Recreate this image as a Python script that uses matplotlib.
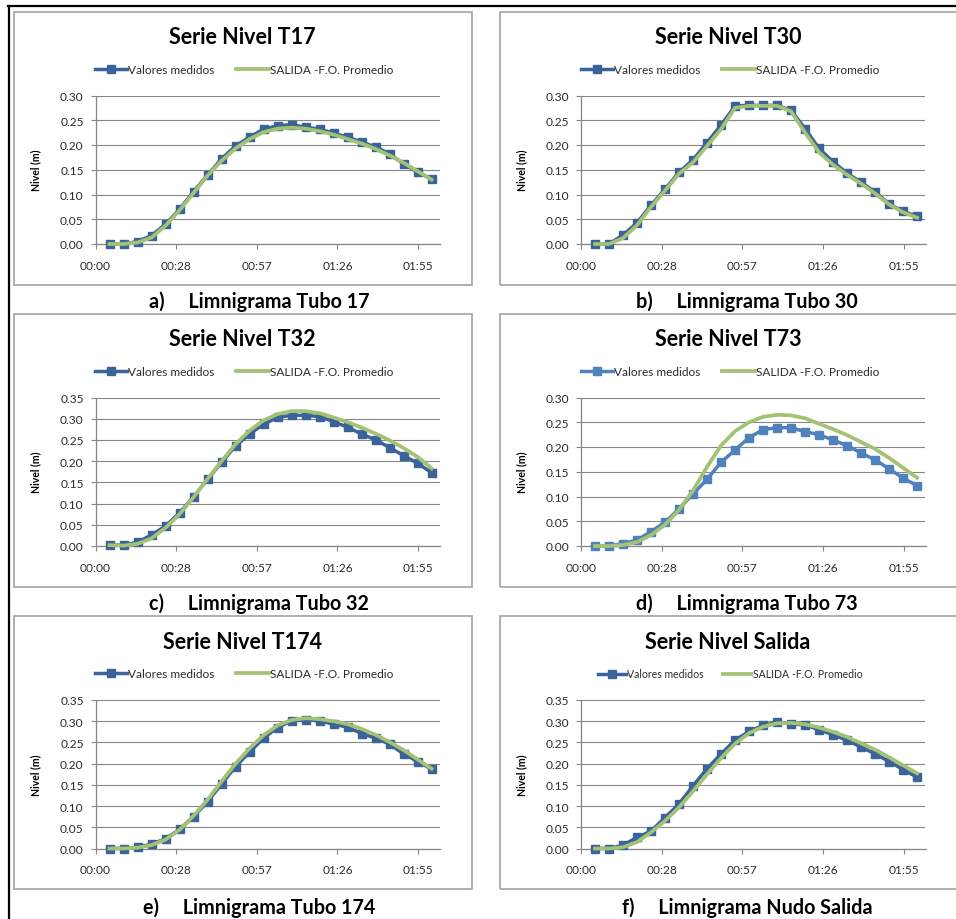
import matplotlib
matplotlib.use("Agg")
import matplotlib.pyplot as plt
from matplotlib.patches import Rectangle
from matplotlib.lines import Line2D

plt.rcParams["font.family"] = ["Lato", "DejaVu Sans"]

# Data (minutes from start, level in m)
minutos = [5, 10, 15, 20, 25, 30, 35, 40, 45, 50, 55, 60,
           65, 70, 75, 80, 85, 90, 95, 100, 105, 110, 115, 120]

medido_t17 = [0.000, 0.000, 0.005, 0.017, 0.040, 0.070, 0.106, 0.139, 0.172, 0.198, 0.216, 0.232,
              0.239, 0.241, 0.236, 0.232, 0.224, 0.216, 0.206, 0.196, 0.182, 0.162, 0.145, 0.131]
salida_t17 = [0.000, 0.000, 0.003, 0.013, 0.037, 0.068, 0.103, 0.138, 0.168, 0.193, 0.212, 0.226,
              0.233, 0.235, 0.233, 0.228, 0.221, 0.212, 0.203, 0.192, 0.179, 0.164, 0.147, 0.130]

medido_t30 = [0.000, 0.000, 0.018, 0.043, 0.078, 0.111, 0.145, 0.170, 0.205, 0.240, 0.279, 0.280,
              0.280, 0.280, 0.270, 0.233, 0.193, 0.166, 0.143, 0.125, 0.105, 0.081, 0.066, 0.056]
salida_t30 = [0.000, 0.000, 0.012, 0.038, 0.075, 0.108, 0.142, 0.165, 0.198, 0.232, 0.275, 0.279,
              0.279, 0.279, 0.268, 0.225, 0.185, 0.160, 0.140, 0.122, 0.102, 0.080, 0.064, 0.053]

medido_t32 = [0.002, 0.002, 0.009, 0.026, 0.047, 0.078, 0.116, 0.157, 0.197, 0.236, 0.264, 0.287,
              0.303, 0.308, 0.308, 0.305, 0.293, 0.280, 0.264, 0.250, 0.232, 0.213, 0.195, 0.173]
salida_t32 = [0.002, 0.001, 0.005, 0.018, 0.043, 0.075, 0.115, 0.158, 0.200, 0.240, 0.272, 0.296,
              0.311, 0.318, 0.318, 0.313, 0.303, 0.292, 0.279, 0.265, 0.249, 0.231, 0.210, 0.183]

medido_t73 = [0.000, 0.000, 0.005, 0.012, 0.029, 0.048, 0.075, 0.105, 0.135, 0.169, 0.194, 0.219,
              0.235, 0.239, 0.239, 0.231, 0.225, 0.214, 0.203, 0.188, 0.174, 0.156, 0.137, 0.122]
salida_t73 = [0.000, 0.000, 0.002, 0.008, 0.022, 0.043, 0.073, 0.112, 0.160, 0.203, 0.232, 0.250,
              0.261, 0.265, 0.264, 0.258, 0.247, 0.236, 0.224, 0.210, 0.196, 0.178, 0.158, 0.138]

medido_t174 = [0.000, 0.000, 0.003, 0.010, 0.023, 0.045, 0.075, 0.110, 0.152, 0.193, 0.227, 0.260,
               0.285, 0.301, 0.303, 0.301, 0.293, 0.286, 0.271, 0.260, 0.246, 0.223, 0.205, 0.187]
salida_t174 = [0.000, 0.000, 0.002, 0.008, 0.021, 0.044, 0.077, 0.115, 0.158, 0.200, 0.236, 0.267,
               0.290, 0.303, 0.307, 0.305, 0.300, 0.293, 0.282, 0.268, 0.251, 0.232, 0.210, 0.188]

medido_salida = [0.000, 0.000, 0.008, 0.026, 0.041, 0.073, 0.105, 0.148, 0.188, 0.223, 0.255, 0.276,
                 0.290, 0.297, 0.294, 0.291, 0.280, 0.268, 0.255, 0.239, 0.223, 0.205, 0.186, 0.168]
salida_salida = [0.000, 0.000, 0.003, 0.015, 0.038, 0.065, 0.097, 0.135, 0.175, 0.213, 0.247, 0.272,
                 0.287, 0.295, 0.296, 0.293, 0.285, 0.275, 0.263, 0.248, 0.233, 0.215, 0.196, 0.177]

x_ticks = [0, 28.8, 57.6, 86.4, 115.2]
x_labels = ["00:00", "00:28", "00:57", "01:26", "01:55"]

titulos = ["Serie Nivel T17", "Serie Nivel T30", "Serie Nivel T32",
           "Serie Nivel T73", "Serie Nivel T174", "Serie Nivel Salida"]
leyendas = ["a)     Limnigrama Tubo 17", "b)     Limnigrama Tubo 30",
            "c)     Limnigrama Tubo 32", "d)     Limnigrama Tubo 73",
            "e)     Limnigrama Tubo 174", "f)     Limnigrama Nudo Salida"]

medidos = [medido_t17, medido_t30, medido_t32, medido_t73, medido_t174, medido_salida]
salidas = [salida_t17, salida_t30, salida_t32, salida_t73, salida_t174, salida_salida]
y_max = [0.30, 0.30, 0.35, 0.30, 0.35, 0.35]

W, H = 956, 920
fig = plt.figure(figsize=(W / 100, H / 100), dpi=100)
fig.patch.set_facecolor("white")


def fx(px):
    return px / W


def fy(py):
    return 1 - py / H


# outer black frame (top and left)
fig.add_artist(Line2D([fx(8), 1], [fy(7), fy(7)], color="black", lw=1.6,
                      transform=fig.transFigure))
fig.add_artist(Line2D([fx(9), fx(9)], [fy(7), 0], color="black", lw=1.6,
                      transform=fig.transFigure))

col_frame = [(14, 472), (500, 962)]
row_frame = [(13, 286), (315, 588), (617, 890)]
col_axes = [(95.5, 440), (581, 925.5)]
row_axes = [(96.5, 245), (398.5, 547), (701, 849.5)]
title_base = [44, 346, 649]
legend_y = [71, 373, 675]
caption_base = [308, 610, 914]
title_x = [242, 728]
legend_x = [244, 730]
caption_x = [259, 747]

gray = "#868686"

for i in range(6):
    r, c = divmod(i, 2)
    x0, x1 = col_frame[c]
    y0, y1 = row_frame[r]
    fig.add_artist(Rectangle((fx(x0), fy(y1)), fx(x1 - x0), (y1 - y0) / H,
                             transform=fig.transFigure, fill=False,
                             ec="#a9a9a9", lw=1.3))

    al, ar = col_axes[c]
    at, ab = row_axes[r]
    ax = fig.add_axes([fx(al), fy(ab), fx(ar - al), (ab - at) / H])

    blue = "#4f81bd" if i == 3 else "#3a6499"
    l1, = ax.plot(minutos, medidos[i], color=blue, lw=2.5, marker="s",
                  markersize=5.4, clip_on=False, zorder=3,
                  label="Valores medidos")
    l2, = ax.plot(minutos, salidas[i], color="#a3c274", lw=2.7,
                  clip_on=False, zorder=4, label="SALIDA -F.O. Promedio")

    ax.set_xlim(0, 123)
    ax.set_ylim(0, y_max[i])
    n = int(round(y_max[i] / 0.05))
    yt = [k * 0.05 for k in range(n + 1)]
    ax.set_yticks(yt)
    ax.set_yticklabels([f"{v:.2f}" for v in yt])
    ax.set_xticks(x_ticks)
    ax.set_xticklabels(x_labels)
    ax.grid(axis="y", color=gray, lw=0.8)
    ax.set_axisbelow(True)
    for s in ["top", "right"]:
        ax.spines[s].set_visible(False)
    for s in ["left", "bottom"]:
        ax.spines[s].set_color(gray)
        ax.spines[s].set_linewidth(0.9)
    ax.tick_params(axis="both", direction="out", color=gray, length=3.5,
                   width=0.8, labelsize=8.6, labelcolor="#2b2b2b")
    ax.tick_params(axis="y", pad=5)
    ax.tick_params(axis="x", pad=8)

    ax.set_ylabel("Nivel (m)", fontsize=7.6, fontweight="bold", color="black")
    ax.yaxis.set_label_coords(-0.157, 0.5)

    fig.text(fx(title_x[c]), fy(title_base[r]), titulos[i], ha="center",
             va="baseline", fontsize=15.5, fontweight="bold")
    fig.text(fx(caption_x[c]), fy(caption_base[r]), leyendas[i], ha="center",
             va="baseline", fontsize=14.2, fontweight="bold")

    fig.legend(handles=[l1, l2], loc="center",
               bbox_to_anchor=(fx(legend_x[c]), fy(legend_y[r])),
               ncol=2, frameon=False, fontsize=7.6 if i == 5 else 8.6,
               handlelength=2.7, handletextpad=0.1, columnspacing=1.8,
               numpoints=1, labelcolor="#2b2b2b")

fig.savefig("out.png", dpi=100)
